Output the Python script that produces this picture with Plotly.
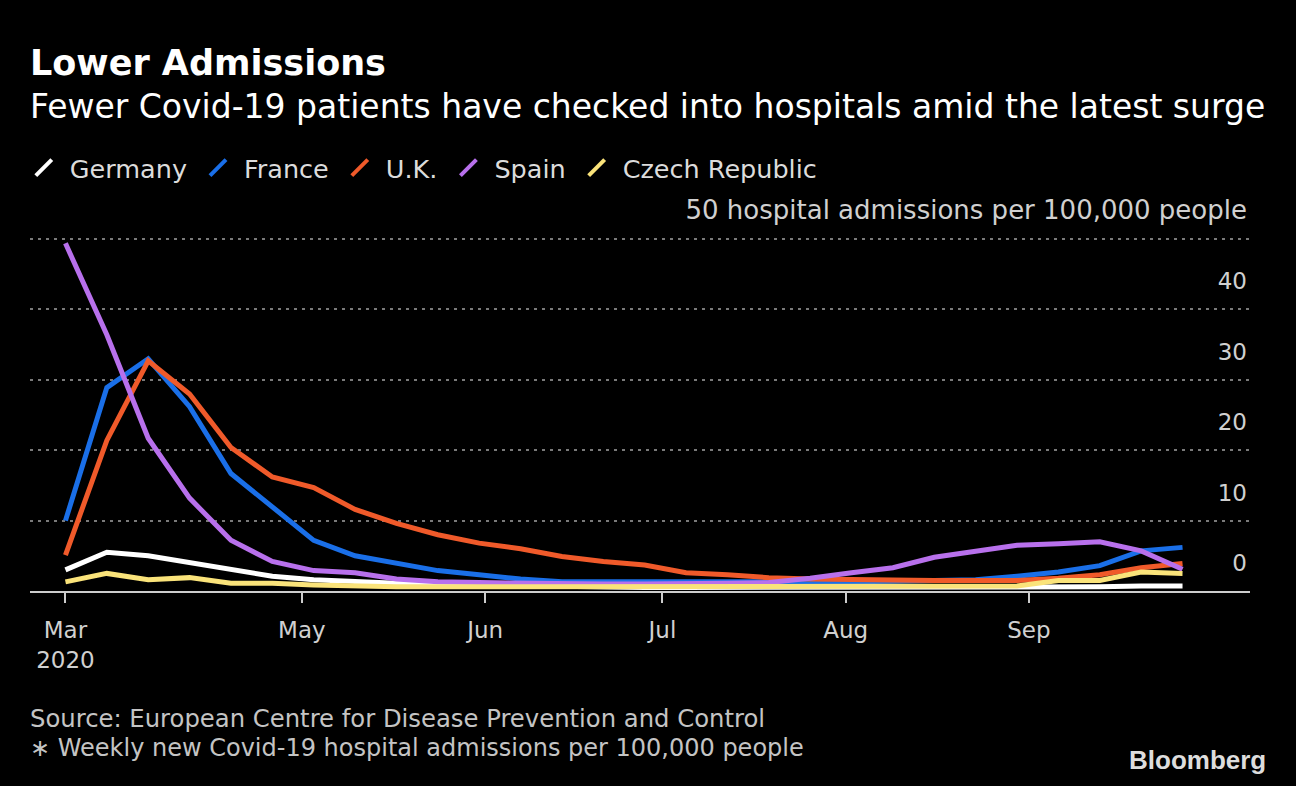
import pandas as pd
import plotly.graph_objects as go

# ---- data ----
dates = pd.date_range("2020-03-22", periods=28, freq="7D")
germany = [3.0, 5.5, 5.0, 4.0, 3.0, 2.1, 1.6, 1.3, 1.1, 0.9, 0.8, 0.7, 0.6, 0.6,
           0.5, 0.5, 0.5, 0.5, 0.5, 0.5, 0.5, 0.5, 0.5, 0.6, 0.6, 0.6, 0.7, 0.7]
france = [10.0, 28.9, 33.0, 26.2, 16.7, 12.0, 7.2, 5.0, 3.9, 2.9, 2.3, 1.7, 1.3, 1.3,
          1.2, 1.3, 1.2, 1.2, 1.3, 1.3, 1.4, 1.5, 1.6, 2.1, 2.7, 3.6, 5.7, 6.2]
uk = [5.1, 21.4, 32.7, 28.0, 20.4, 16.2, 14.7, 11.6, 9.6, 8.0, 6.8, 6.0, 4.9, 4.2,
      3.7, 2.6, 2.3, 1.9, 1.7, 1.6, 1.5, 1.5, 1.5, 1.5, 1.8, 2.3, 3.3, 3.9]
spain = [49.4, 36.4, 21.7, 13.2, 7.2, 4.2, 2.9, 2.6, 1.7, 1.3, 1.2, 1.1, 1.0, 1.0,
         1.0, 1.0, 1.1, 1.2, 1.8, 2.6, 3.3, 4.8, 5.6, 6.5, 6.7, 7.0, 5.7, 3.1]
czech = [1.3, 2.5, 1.6, 1.9, 1.1, 1.1, 0.85, 0.7, 0.6, 0.6, 0.6, 0.6, 0.6, 0.6,
         0.6, 0.6, 0.6, 0.6, 0.6, 0.6, 0.6, 0.6, 0.6, 0.7, 1.5, 1.5, 2.7, 2.5]

series_names = ["Germany", "France", "U.K.", "Spain", "Czech Republic"]
series_values = [germany, france, uk, spain, czech]
colors = ["#ffffff", "#1a6fe8", "#f05a2a", "#b870ec", "#fae37a"]

x_tickvals = ["2020-03-22", "2020-05-01", "2020-06-01", "2020-07-01", "2020-08-01", "2020-09-01"]
x_ticktext = ["Mar<br>2020", "May", "Jun", "Jul", "Aug", "Sep"]
y_tickvals = [0, 10, 20, 30, 40, 50]
y_ticktext = ["0", "10", "20", "30", "40",
              '<span style="font-size:26px">50 hospital admissions per 100,000 people</span>']

FONT = "DejaVu Sans"
W, H = 1296, 786
ML, MR, MT, MB = 30, 46, 237, 195
PW, PH = W - ML - MR, H - MT - MB

def py(p):  # pixel y -> paper y
    return (H - MB - p) / PH

def px(p):
    return (p - ML) / PW

fig = go.Figure()
for name, vals, col in zip(series_names, series_values, colors):
    fig.add_trace(go.Scatter(x=dates, y=vals, mode="lines", name=name,
                             line=dict(color=col, width=5), showlegend=False,
                             hoverinfo="skip"))
# legend entries with slash symbols
for name, col in zip(series_names, colors):
    fig.add_trace(go.Scatter(x=[None], y=[None], mode="markers", name=name,
                             marker=dict(symbol="line-ne", size=16, color=col,
                                         line=dict(color=col, width=4)),
                             showlegend=True))

fig.update_layout(
    width=W, height=H,
    paper_bgcolor="#000000", plot_bgcolor="#000000",
    margin=dict(l=ML, r=MR, t=MT, b=MB),
    font=dict(family=FONT, color="#d0d0d0"),
    showlegend=True,
    legend=dict(orientation="h", x=-0.01, xanchor="left", y=py(168), yanchor="middle",
                font=dict(size=25.5, color="#dcdcdc", family=FONT),
                itemwidth=42,
                bgcolor="rgba(0,0,0,0)", itemclick=False),
    xaxis=dict(type="date", range=["2020-03-16", "2020-10-08 10:00"],
               tickvals=x_tickvals, ticktext=x_ticktext,
               showgrid=False, zeroline=False,
               showline=True, linecolor="#cccccc", linewidth=2,
               ticks="outside", ticklen=10, tickwidth=2, tickcolor="#cccccc",
               ticklabelstandoff=7,
               tickfont=dict(size=23, color="#d0d0d0", family=FONT)),
    yaxis=dict(range=[0, 50.3], side="right", tickvals=y_tickvals, ticktext=y_ticktext,
               ticklabelposition="inside top", ticks="",
               ticklabeloverflow="allow",
               showgrid=True, gridcolor="#7a7a7a", gridwidth=2, griddash="3px,5px",
               zeroline=False, showline=False,
               tickfont=dict(size=23, color="#d0d0d0", family=FONT),
               ticklabelshift=-12),
    annotations=[
        dict(text="<b>Lower Admissions</b>", xref="paper", yref="paper",
             x=px(28), y=py(63), xanchor="left", yanchor="middle", showarrow=False,
             font=dict(size=35, color="#ffffff", family=FONT)),
        dict(text="Fewer Covid-19 patients have checked into hospitals amid the latest surge",
             xref="paper", yref="paper", x=px(28), y=py(106), xanchor="left",
             yanchor="middle", showarrow=False,
             font=dict(size=33, color="#ffffff", family=FONT)),
        dict(text="Source: European Centre for Disease Prevention and Control",
             xref="paper", yref="paper", x=px(28), y=py(718), xanchor="left",
             yanchor="middle", showarrow=False,
             font=dict(size=24.3, color="#c4c4c4", family=FONT)),
        dict(text="∗ Weekly new Covid-19 hospital admissions per 100,000 people",
             xref="paper", yref="paper", x=px(28), y=py(748), xanchor="left",
             yanchor="middle", showarrow=False,
             font=dict(size=24, color="#c4c4c4", family=FONT)),
        dict(text="<b>Bloomberg</b>", xref="paper", yref="paper", x=px(1268), y=py(760),
             xanchor="right", yanchor="middle", showarrow=False,
             font=dict(size=26, color="#dddddd", family="Liberation Sans")),
    ],
)

fig.write_html("out.html")
